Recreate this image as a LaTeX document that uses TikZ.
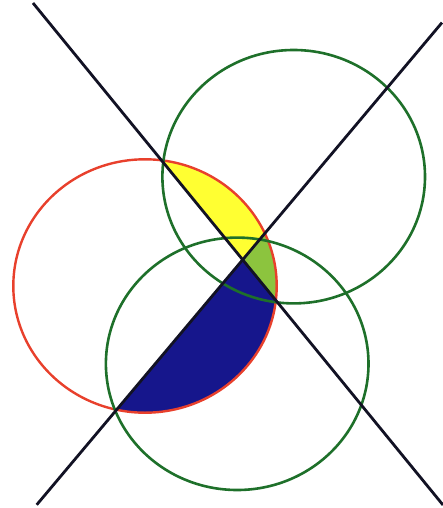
\documentclass[tikz,border=0pt]{standalone}
\usetikzlibrary{calc}
\definecolor{redc}{RGB}{232,64,44}
\definecolor{greenc}{RGB}{30,112,42}
\definecolor{yelc}{RGB}{255,255,50}
\definecolor{lgc}{RGB}{140,196,62}
\definecolor{bluec}{RGB}{22,22,140}
\definecolor{linec}{RGB}{18,18,36}
\tikzset{
  redcirc/.style={draw=redc, line width=2.4pt},
  greencirc/.style={draw=greencirc@c, line width=2.6pt},
  greencirc@c/.code={},
  gcirc/.style={draw=greenc, line width=2.6pt},
  blackline/.style={draw=linec, line width=2.8pt},
  yelfill/.style={fill=yelc},
  lgfill/.style={fill=lgc},
  bluefill/.style={fill=bluec},
}
\begin{document}
\begin{tikzpicture}[x=1pt, y=-1pt]
\useasboundingbox (0,0) rectangle (443,508);
% line end points
\coordinate (E1) at (33,3);
\coordinate (E2) at (443,505);
\coordinate (F1) at (36.7,504.8);
\coordinate (F2) at (442,22.6);
\coordinate (P) at (243.2,259.1);
% circle centres
\coordinate (O) at (145,286);
\coordinate (G1) at (293.7,176.7);
\coordinate (G2) at (237.2,363.8);
% fills
\begin{scope}
  \clip (O) ellipse [x radius=131.7pt, y radius=126.7pt];
  \fill[yelfill] (P) -- (E1) -- ($(E1)+(F2)-(P)$) -- (F2) -- cycle;
  \fill[lgfill] (P) -- (F2) -- ($(F2)+(E2)-(P)$) -- (E2) -- cycle;
  \fill[bluefill] (P) -- (E2) -- ($(E2)+(F1)-(P)$) -- (F1) -- cycle;
\end{scope}
% circles
\draw[redcirc] (O) ellipse [x radius=131.7pt, y radius=126.7pt];
\draw[gcirc] (G1) ellipse [x radius=131.3pt, y radius=126.7pt];
\draw[gcirc] (G2) ellipse [x radius=131.3pt, y radius=126.2pt];
% lines
\draw[blackline] (E1) -- (E2);
\draw[blackline] (F1) -- (F2);
\end{tikzpicture}
\end{document}
